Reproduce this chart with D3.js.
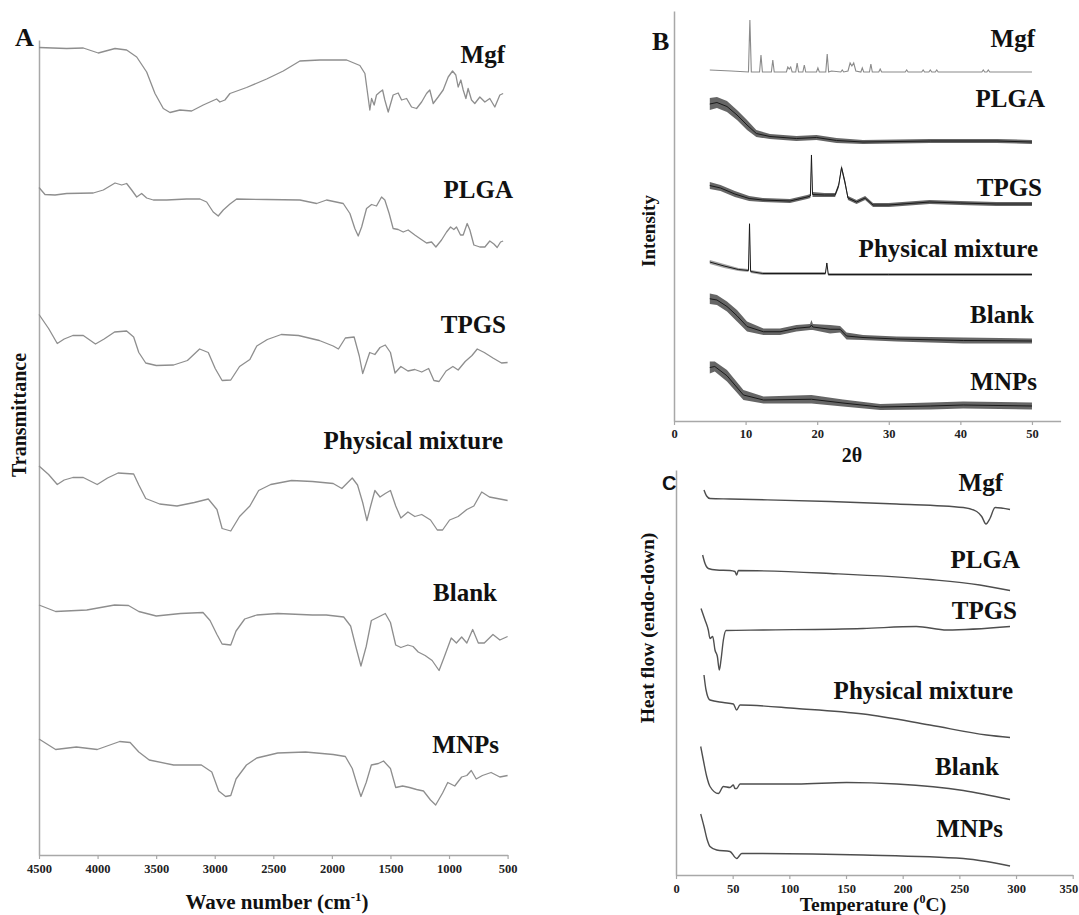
<!DOCTYPE html>
<html>
<head>
<meta charset="utf-8">
<script src="https://cdn.jsdelivr.net/npm/d3@7"></script>
<style>
  body { margin: 0; background: #fff; }
  svg { display: block; }
</style>
</head>
<body>
<script>
// ---------- data ----------
const samples = ["Mgf", "PLGA", "TPGS", "Physical mixture", "Blank", "MNPs"];

// A: FTIR, [wave number cm-1, transmittance a.u. relative to trace start]
const ftirTicks = [4500, 4000, 3500, 3000, 2500, 2000, 1500, 1000, 500];
const ftirOffset = [161.5, 133.5, 108.1, 77.8, 50.0, 23.2];
const ftirMgf = [[4500,0],[4264,-0.2],[4122,-0.1],[3994,-1.1],[3851,-0.2],[3752,-0.5],[3666,-1.9],[3581,-4.9],[3510,-9.2],[3439,-12.2],[3382,-13.0],[3297,-12.5],[3197,-12.7],[3098,-11.5],[2984,-10.3],[2956,-10.9],[2913,-10.5],[2870,-9.2],[2728,-8.0],[2557,-6.3],[2415,-4.7],[2273,-2.7],[2102,-2.5],[1874,-2.5],[1761,-3.6],[1718,-5.2],[1699,-8.5],[1676,-12.5],[1661,-10.2],[1639,-11.5],[1619,-9.5],[1590,-8.9],[1567,-8.5],[1548,-10.5],[1519,-12.9],[1477,-9.5],[1434,-9.1],[1405,-10.5],[1362,-10.2],[1320,-11.9],[1277,-12.2],[1234,-10.9],[1192,-9.2],[1164,-8.5],[1135,-11.2],[1093,-9.9],[1050,-8.5],[1007,-5.9],[970,-4.7],[942,-5.5],[922,-7.9],[899,-6.5],[879,-8.5],[856,-10.2],[837,-8.2],[808,-10.5],[780,-11.2],[737,-9.9],[694,-10.9],[652,-10.2],[609,-11.9],[566,-9.5],[538,-9.2]];
const ftirPLGA = [[4500,0],[4449,-1.4],[4363,-1.5],[4264,-1.2],[4037,-1.1],[3951,-0.5],[3851,0.9],[3794,0.5],[3752,0.8],[3709,-0.5],[3666,-1.9],[3624,-1.2],[3581,-2.1],[3524,-2.5],[3410,-2.5],[3240,-2.3],[3126,-2.3],[3069,-2.9],[3013,-4.9],[2970,-5.7],[2927,-4.5],[2870,-3.3],[2813,-2.3],[2557,-2.4],[2273,-2.5],[2130,-3.2],[2045,-2.5],[1903,-3.2],[1846,-5.2],[1804,-8.2],[1775,-9.7],[1746,-7.9],[1704,-4.2],[1661,-3.4],[1619,-3.7],[1576,-1.9],[1548,-2.5],[1511,-5.2],[1477,-8.2],[1434,-8.4],[1391,-8.9],[1349,-8.5],[1292,-9.5],[1249,-10.2],[1192,-11.1],[1149,-10.9],[1112,-11.9],[1064,-10.5],[1021,-8.9],[987,-7.9],[959,-8.4],[936,-7.9],[902,-9.5],[879,-9.5],[845,-7.2],[822,-8.5],[788,-11.5],[737,-11.9],[694,-11.9],[652,-10.7],[617,-11.3],[589,-12.0],[560,-10.9],[538,-10.7]];
const ftirTPGS = [[4500,0],[4418,-2.8],[4344,-5.8],[4285,-4.9],[4211,-4.2],[4122,-4.2],[4018,-5.9],[3944,-4.9],[3855,-3.5],[3752,-3.3],[3692,-4.5],[3648,-7.6],[3589,-9.7],[3499,-10.2],[3351,-10.1],[3233,-9.2],[3129,-6.9],[3055,-7.6],[2996,-10.8],[2937,-13.2],[2863,-13.1],[2788,-10.4],[2700,-9.0],[2641,-6.3],[2551,-5.0],[2432,-4.0],[2285,-4.2],[2107,-5.2],[1989,-6.3],[1944,-6.9],[1885,-4.7],[1810,-4.5],[1766,-8.3],[1737,-11.8],[1707,-9.7],[1677,-7.6],[1633,-8.0],[1589,-6.6],[1544,-6.1],[1500,-7.6],[1461,-11.7],[1411,-10.4],[1351,-11.3],[1292,-11.0],[1233,-11.5],[1174,-10.8],[1129,-13.2],[1085,-13.4],[1025,-11.3],[967,-10.4],[922,-11.1],[862,-9.4],[804,-8.2],[759,-6.9],[699,-7.6],[625,-8.7],[552,-9.7],[500,-9.6]];
const ftirPM = [[4500,0],[4418,-1.7],[4344,-3.7],[4285,-2.8],[4211,-2.3],[4122,-2.3],[4003,-3.7],[3915,-2.4],[3825,-1.4],[3692,-1.6],[3648,-3.8],[3589,-6.5],[3470,-7.6],[3322,-8.0],[3174,-7.3],[3055,-6.6],[2981,-8.7],[2937,-12.5],[2863,-13.0],[2788,-10.1],[2700,-8.0],[2625,-4.9],[2522,-3.7],[2344,-2.9],[2166,-3.1],[1989,-3.5],[1915,-4.5],[1826,-2.4],[1781,-3.8],[1737,-7.3],[1701,-10.9],[1669,-8.0],[1633,-4.9],[1589,-6.2],[1544,-5.5],[1500,-4.9],[1455,-8.0],[1411,-10.4],[1351,-9.2],[1292,-10.1],[1233,-9.7],[1158,-10.8],[1100,-12.8],[1055,-12.8],[995,-10.8],[922,-10.1],[848,-8.7],[788,-8.0],[721,-5.2],[655,-6.2],[566,-6.6],[500,-6.9]];
const ftirBlank = [[4500,0],[4358,-1.3],[4092,-1.0],[3855,0],[3736,-0.1],[3648,-1.3],[3499,-2.2],[3292,-1.7],[3100,-1.5],[3040,-3.1],[2981,-5.9],[2937,-7.8],[2863,-8.0],[2818,-5.2],[2744,-2.8],[2641,-2.0],[2462,-1.7],[2166,-2.0],[2048,-2.0],[1899,-2.4],[1840,-4.2],[1796,-8.3],[1752,-12.2],[1707,-8.3],[1663,-3.1],[1603,-2.4],[1544,-1.7],[1500,-3.5],[1455,-8.0],[1411,-8.5],[1351,-8.0],[1307,-8.3],[1263,-9.4],[1204,-10.1],[1144,-11.1],[1085,-13.1],[1041,-10.4],[981,-6.6],[937,-7.6],[892,-6.4],[848,-7.6],[798,-4.9],[750,-7.6],[699,-7.6],[625,-5.9],[566,-7.0],[500,-6.3]];
const ftirMNPs = [[4500,0],[4358,-2.1],[4181,-1.6],[4003,-2.1],[3811,-0.5],[3722,-0.7],[3648,-2.6],[3559,-4.2],[3351,-5.2],[3114,-5.2],[3025,-6.6],[2966,-10.4],[2907,-11.5],[2863,-11.3],[2818,-8.0],[2729,-5.2],[2641,-3.8],[2462,-2.8],[2225,-2.6],[1989,-3.1],[1885,-3.5],[1826,-5.9],[1781,-9.4],[1752,-11.5],[1707,-8.7],[1663,-5.2],[1603,-4.9],[1559,-4.4],[1500,-5.9],[1455,-9.7],[1396,-9.4],[1337,-9.7],[1277,-10.1],[1218,-10.4],[1158,-12.2],[1114,-13.2],[1055,-10.8],[1011,-8.7],[951,-9.4],[892,-7.6],[848,-7.3],[810,-6.3],[768,-8.0],[715,-7.3],[641,-6.7],[566,-7.6],[500,-7.3]];

// B: XRD, Mgf as [2θ, intensity]; the noisy traces as [2θ, low, high] envelope
const xrdTicks = [0, 10, 20, 30, 40, 50];
const xrdOffset = [69.8, 55.8, 43.4, 29.4, 16.0, 3.0];
const xrdMgf = [[5,0.4],[8,0.2],[10.4,0],[10.6,10.4],[10.8,0],[11.95,0],[12.15,3.4],[12.35,0],[13.6,0],[13.8,2.4],[14.0,0],[15.7,0],[15.9,1.0],[16.1,0.6],[16.3,1.0],[16.5,0],[17.0,0],[17.2,1.8],[17.4,0],[18.0,0],[18.2,1.4],[18.4,0],[19.9,0],[20.1,0.8],[20.3,0],[21.2,0],[21.4,3.6],[21.6,0],[22.0,0.2],[23.3,0],[23.5,0.4],[23.7,0],[24.3,0.2],[24.6,1.8],[24.85,1.2],[25.1,1.8],[25.4,0.2],[26.1,0],[26.3,0.8],[26.5,0],[27.3,0],[27.5,1.6],[27.7,0],[28.6,0],[28.8,0.6],[29.0,0],[32.3,0],[32.5,0.4],[32.7,0],[34.6,0],[34.8,0.4],[35.0,0],[35.6,0],[35.8,0.4],[36.0,0],[36.5,0],[36.7,0.4],[36.9,0],[43.0,0],[43.2,0.4],[43.4,0],[43.7,0],[43.9,0.4],[44.1,0],[50,0]];
const xrdPLGA = [[5,6.4,8.8],[6,6.8,9.0],[7.4,6.0,8.2],[8.8,4.4,6.4],[10.2,2.4,4.4],[11.5,1.0,2.4],[13.4,0.6,1.6],[17.1,0.2,1.2],[19.9,0.4,1.4],[22.7,-0.2,0.8],[26.4,-0.4,0.4],[35.8,-0.2,0.6],[45.1,-0.2,0.6],[50,-0.4,0.4]];
const xrdTPGS = [[5,3.0,4.4],[6.5,2.6,3.8],[8.5,1.4,2.6],[10.5,0.6,1.6],[12.4,0.4,1.2],[16.2,0.2,1.0],[18.6,1.0,1.8],[19.05,1.2,2.0],[19.2,9.4,10.2],[19.35,1.4,2.4],[21.0,1.4,2.2],[22.5,1.4,2.2],[23.0,3.2,4.2],[23.4,6.8,7.8],[23.9,3.6,4.8],[24.3,0.8,1.6],[25.5,0,0.8],[26.7,0.8,1.6],[27.8,-0.6,0.2],[30,-0.6,0.2],[35.7,0,0.8],[40,-0.2,0.6],[45,-0.4,0.4],[50,-0.4,0.4]];
const xrdPM = [[5,2.0,2.8],[7,1.2,2.0],[9,0.6,1.2],[10.4,0.4,1.0],[10.55,9.8,10.3],[10.7,0.2,0.8],[12.4,-0.2,0.4],[21.15,-0.2,0.4],[21.35,2.0,2.4],[21.55,-0.4,0.2],[30,-0.4,0.2],[50,-0.4,0.2]];
const xrdBlank = [[5,7.4,9.5],[6,7.2,9.2],[7.4,5.9,7.9],[8.8,3.9,6.2],[10.2,1.9,3.9],[12.5,1.2,2.5],[14.8,1.2,2.5],[17.1,1.9,3.2],[19.0,2.2,3.4],[19.2,2.2,4.2],[19.4,2.2,3.4],[21.8,1.5,3.2],[23.2,1.7,3.0],[24.1,0.3,1.7],[26.4,0.2,1.2],[31.1,-0.1,0.9],[40.4,-0.5,0.7],[50,-0.5,0.5]];
const xrdMNPs = [[5,6.5,8.9],[5.7,6.9,8.9],[7.4,4.9,7.2],[9.7,1.2,3.2],[12.5,0.5,1.9],[19.2,0.5,2.2],[23.6,-0.1,1.3],[28.8,-0.8,0.4],[35.8,-0.7,0.7],[40.4,-0.5,0.9],[50,-0.7,0.7]];

// C: DSC, [temperature °C, heat flow a.u.]
const dscTicks = [0, 50, 100, 150, 200, 250, 300, 350];
const dscOffset = [75.2, 61.0, 49.0, 34.4, 18.0, 4.6];
const dscMgf = [[24.7,1.8],[27,0.6],[30,0.1],[47.6,0],[136,-0.5],[194.7,-1.0],[253.5,-1.7],[265.3,-2.5],[269.7,-3.5],[273.5,-5.0],[277,-3.9],[281.5,-1.7],[294.7,-2.1]];
const dscPLGA = [[23.5,3.0],[25.6,1.3],[28.5,0.3],[35.9,0],[47.6,-0.1],[52,-0.3],[53.5,-1.0],[55,-0.1],[136,-0.7],[224,-1.9],[268,-3.0],[294.7,-4.1]];
const dscTPGS = [[22.1,4.3],[25.6,2.0],[28.5,0],[30,-1.7],[32.4,-1.3],[34.4,-4.0],[36.5,-5.3],[38.2,-8.0],[39.7,-6.0],[41.8,-2.0],[44.1,-0.1],[77,0],[165,0.3],[212,0.7],[239,0],[294.7,0.7]];
const dscPM = [[24.7,5.6],[26.5,2.6],[30,0.6],[41.8,0.1],[50.6,-0.2],[53.5,-1.4],[56.5,-0.4],[106.5,-1.1],[165.3,-2.2],[224,-4.4],[274,-6.4],[294.7,-6.9]];
const dscBlank = [[21.8,7.7],[24.1,5.0],[27.1,1.7],[30,-0.3],[37.4,-1.7],[41.8,-0.3],[47.6,-0.5],[50.6,0],[52,-0.7],[53.5,-0.7],[56.5,0.2],[106.5,0.2],[150.6,0.5],[194.7,0.2],[253.5,-1.1],[294.7,-2.9]];
const dscMNPs = [[21.8,7.6],[24.7,5.1],[27.6,2.4],[30,1.1],[35.9,0.4],[47.6,0.1],[53.5,-1.3],[58,-0.3],[165.3,-0.6],[253.5,-1.3],[274,-1.9],[294.7,-2.8]];

const ftirSeries = [ftirMgf, ftirPLGA, ftirTPGS, ftirPM, ftirBlank, ftirMNPs];
const xrdNoisy = [null, xrdPLGA, xrdTPGS, xrdPM, xrdBlank, xrdMNPs];
const dscSeries = [dscMgf, dscPLGA, dscTPGS, dscPM, dscBlank, dscMNPs];

// ---------- layout ----------
const serif = "'Liberation Serif','Times New Roman',Times,serif";
const axisColor = "#a8a8a8";
const labelPosA = [[505,63],[513,198],[506,333],[503,449],[497,601],[499,753]];
const labelPosB = [[1035,47],[1045,107],[1042,196],[1038,257],[1034,323],[1037,390]];
const labelPosC = [[1003,491],[1020,568],[1017,619],[1013,699],[999,775],[1003,837]];

const svg = d3.select("body").append("svg")
    .attr("width", 1079)
    .attr("height", 915);

//scales
const xA = d3.scaleLinear().domain([4500, 500]).range([39, 507.6]);
const yA = d3.scaleLinear().domain([0, 163]).range([855, 40]);
const xB = d3.scaleLinear().domain([0, 54]).range([674, 1060.6]);
const yB = d3.scaleLinear().domain([0, 82]).range([421, 11]);
const xC = d3.scaleLinear().domain([0, 350]).range([676, 1072.7]);
const yC = d3.scaleLinear().domain([0, 81]).range([875, 470]);

function styleAxis(g) {
    g.attr("font-family", null).attr("font-size", null);
    g.select(".domain").attr("stroke", axisColor).attr("stroke-width", 1.5);
    g.selectAll(".tick line").attr("stroke", axisColor).attr("stroke-width", 1.2);
    g.selectAll(".tick text")
        .attr("font-family", serif)
        .attr("font-weight", "bold")
        .attr("font-size", 12.5)
        .attr("fill", "#222");
}

function addText(x, y, txt, size, anchor, family) {
    return svg.append("text")
        .attr("x", x).attr("y", y)
        .attr("text-anchor", anchor || "end")
        .attr("font-family", family || serif)
        .attr("font-weight", "bold")
        .attr("font-size", size)
        .attr("fill", "#111")
        .text(txt);
}

function addVerticalTitle(x, y, txt, size) {
    svg.append("text")
        .attr("transform", "translate(" + x + "," + y + ") rotate(-90)")
        .attr("text-anchor", "middle")
        .attr("font-family", serif)
        .attr("font-weight", "bold")
        .attr("font-size", size)
        .attr("fill", "#111")
        .text(txt);
}

// ===== Panel A : FTIR =====
svg.append("g").attr("transform", "translate(0," + yA(0) + ")")
    .call(d3.axisBottom(xA).tickValues(ftirTicks).tickFormat(d3.format("d")).tickSize(4).tickPadding(5).tickSizeOuter(0))
    .call(styleAxis);
svg.append("g").attr("transform", "translate(" + xA(4500) + ",0)")
    .call(d3.axisLeft(yA).tickValues([]).tickSizeOuter(0))
    .call(styleAxis);

ftirSeries.forEach(function (s, i) {
    svg.append("path")
        .datum(s)
        .attr("fill", "none")
        .attr("stroke", "#8e8e8e")
        .attr("stroke-width", 1.3)
        .attr("stroke-linejoin", "round")
        .attr("d", d3.line()
            .x(function (d) { return xA(d[0]); })
            .y(function (d) { return yA(ftirOffset[i] + d[1]); }));
    addText(labelPosA[i][0], labelPosA[i][1], samples[i], 25);
});

addText(15, 46, "A", 26, "start");
addVerticalTitle(26, 415, "Transmittance", 20);
const wn = addText(277, 909, "Wave number (cm", 21, "middle");
wn.append("tspan").attr("font-size", 13).attr("dy", -8).text("-1");
wn.append("tspan").attr("dy", 8).text(")");

// ===== Panel B : XRD =====
svg.append("g").attr("transform", "translate(0," + yB(0) + ")")
    .call(d3.axisBottom(xB).tickValues(xrdTicks).tickSize(4).tickPadding(4).tickSizeOuter(0))
    .call(styleAxis);
svg.append("g").attr("transform", "translate(" + xB(0) + ",0)")
    .call(d3.axisLeft(yB).tickValues([]).tickSizeOuter(0))
    .call(styleAxis);

svg.append("path")
    .datum(xrdMgf)
    .attr("fill", "none")
    .attr("stroke", "#8a8a8a")
    .attr("stroke-width", 1.1)
    .attr("d", d3.line()
        .x(function (d) { return xB(d[0]); })
        .y(function (d) { return yB(xrdOffset[0] + d[1]); }));

xrdNoisy.forEach(function (s, i) {
    if (!s) return;
    const thin = i === 3;
    // spread of the noisy scan
    svg.append("path")
        .datum(s)
        .attr("fill", "#333")
        .attr("fill-opacity", thin ? 0.45 : 0.75)
        .attr("d", d3.area()
            .x(function (d) { return xB(d[0]); })
            .y0(function (d) { return yB(xrdOffset[i] + d[1]); })
            .y1(function (d) { return yB(xrdOffset[i] + d[2]); }));
    // mid trace
    svg.append("path")
        .datum(s)
        .attr("fill", "none")
        .attr("stroke", "#1a1a1a")
        .attr("stroke-width", 1)
        .attr("d", d3.line()
            .x(function (d) { return xB(d[0]); })
            .y(function (d) { return yB(xrdOffset[i] + (d[1] + d[2]) / 2); }));
});
samples.forEach(function (name, i) {
    addText(labelPosB[i][0], labelPosB[i][1], name, 25);
});

addText(652, 50, "B", 26, "start");
addVerticalTitle(655, 231, "Intensity", 19);
addText(852, 462, "2θ", 20, "middle");

// ===== Panel C : DSC =====
svg.append("g").attr("transform", "translate(0," + yC(0) + ")")
    .call(d3.axisBottom(xC).tickValues(dscTicks).tickSize(4).tickPadding(5).tickSizeOuter(0))
    .call(styleAxis)
    .selectAll(".tick text")
    .filter(function (d) { return d === 350; })
    .attr("text-anchor", "end")
    .attr("x", 5);
svg.append("g").attr("transform", "translate(" + xC(0) + ",0)")
    .call(d3.axisLeft(yC).tickValues([]).tickSizeOuter(0))
    .call(styleAxis);

dscSeries.forEach(function (s, i) {
    svg.append("path")
        .datum(s)
        .attr("fill", "none")
        .attr("stroke", "#4e4e4e")
        .attr("stroke-width", 1.4)
        .attr("d", d3.line()
            .curve(d3.curveMonotoneX)
            .x(function (d) { return xC(d[0]); })
            .y(function (d) { return yC(dscOffset[i] + d[1]); }));
    addText(labelPosC[i][0], labelPosC[i][1], samples[i], 25);
});

addText(662, 490, "C", 20, "start", "'Liberation Sans',Arial,sans-serif");
addVerticalTitle(654, 628, "Heat flow (endo-down)", 19.5);
const tc = addText(873, 911, "Temperature (", 19.5, "middle");
tc.append("tspan").attr("font-size", 12).attr("dy", -8).text("0");
tc.append("tspan").attr("dy", 8).text("C)");
</script>
</body>
</html>
